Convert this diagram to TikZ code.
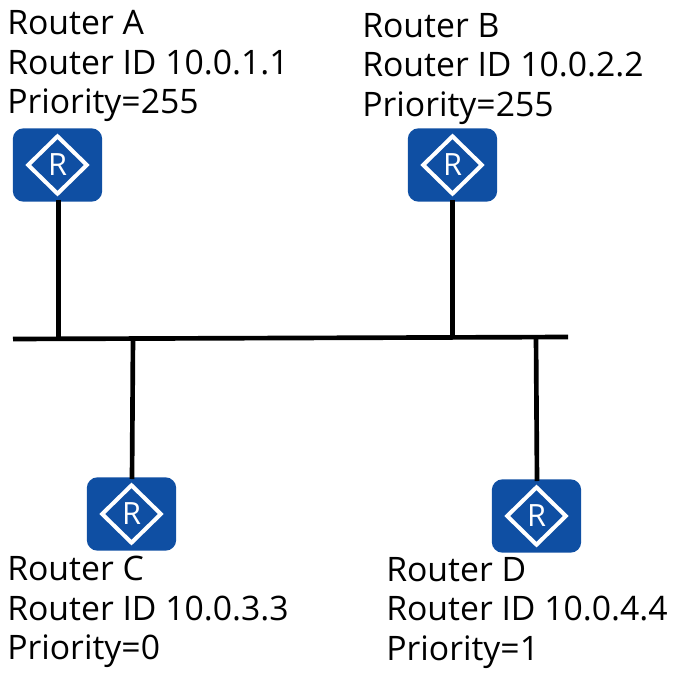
\documentclass[tikz,border=0pt]{standalone}
\usepackage{fontspec}
\setmainfont{Open Sans}
\definecolor{rblue}{HTML}{0F4FA3}
\tikzset{
 lbl/.style={anchor=west,align=left,inner sep=0pt,font=\fontsize{25.3}{29.7}\selectfont,text=black},
 bus/.style={line width=3.5pt,black},
 routerbox/.style={minimum width=67pt,minimum height=55pt,rounded corners=8pt,fill=rblue,inner sep=0pt},
}
\newcommand{\routerglyph}[1]{%
 \draw[white,line width=3pt] ([xshift=-22pt]#1.center) -- ([yshift=21.5pt]#1.center) -- ([xshift=22pt]#1.center) -- ([yshift=-21.5pt]#1.center) -- cycle;
 \node[white,inner sep=0pt,font=\fontsize{23}{23}\selectfont] at (#1.center) {R};
}
\begin{document}
\begin{tikzpicture}[x=0.75pt,y=-0.75pt]
\useasboundingbox (0,0) rectangle (678,680);
\coordinate (b1) at (13,339);
\coordinate (b2) at (568,337);
\draw[bus] (b1) -- (b2);
\node[routerbox] (A) at (57.5,165) {};
\node[routerbox] (B) at (452.5,165) {};
\node[routerbox] (C) at (131.5,514) {};
\node[routerbox] (D) at (536.5,516) {};
\coordinate (ja) at (58.5,338.5);
\coordinate (jb) at (452.5,337.5);
\coordinate (jc) at (133,338);
\coordinate (jd) at (536,337.5);
\draw[bus] (58.5,200) -- (ja);
\draw[bus] (452.5,200) -- (jb);
\draw[bus] (132,479) -- (jc);
\draw[bus] (537,481) -- (jd);
\routerglyph{A}\routerglyph{B}\routerglyph{C}\routerglyph{D}
\node[lbl] (ta) at (7,66) {Router A\\Router ID 10.0.1.1\\Priority=255};
\node[lbl] (tb) at (362,69) {Router B\\Router ID 10.0.2.2\\Priority=255};
\node[lbl] (tc) at (7,612) {Router C\\Router ID 10.0.3.3\\Priority=0};
\node[lbl] (td) at (386,613) {Router D\\Router ID 10.0.4.4\\Priority=1};
\end{tikzpicture}
\end{document}
